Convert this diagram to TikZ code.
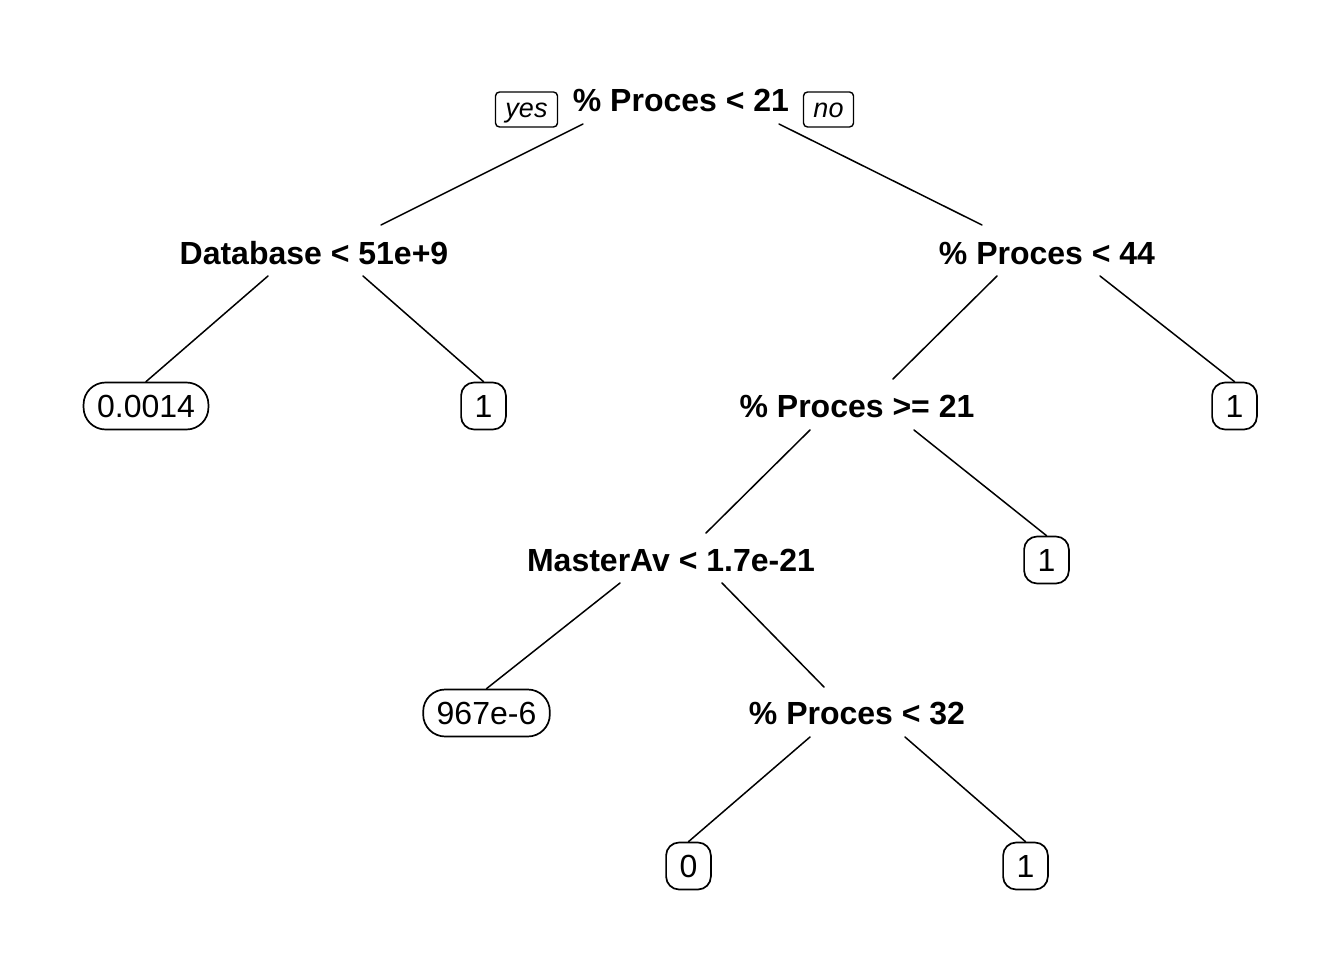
\documentclass[tikz,border=0pt]{standalone}
\usepackage{fontspec}
\setmainfont{Liberation Sans}
\begin{document}
\begin{tikzpicture}[x=1pt,y=-1pt,
  split/.style={font=\fontsize{32}{36}\selectfont\bfseries, anchor=base, inner sep=0pt},
  leaf/.style={draw, line width=1.7pt, rounded corners=#1, font=\fontsize{32}{36}\selectfont, text height=23pt, text depth=0pt, minimum height=47pt, inner xsep=13.5pt, inner ysep=0pt},
  leaf/.default=13pt,
  yn/.style={draw, line width=1.4pt, rounded corners=4pt, font=\fontsize{27}{30}\selectfont\itshape, text height=16pt, text depth=0pt, minimum height=35pt, inner xsep=10pt, inner ysep=0pt},
  edge/.style={line width=1.5pt, line cap=round}]
\useasboundingbox (0,0) rectangle (1344,960);
% split nodes
\node[split] (root) at (681,112) {\% Proces < 21};
\node[split] (db) at (314,264) {Database < 51e+9};
\node[split] (p44) at (1047,264) {\% Proces < 44};
\node[split] (p21) at (857,417) {\% Proces >= 21};
\node[split] (ma) at (671,571) {MasterAv < 1.7e-21};
\node[split] (p32) at (857,724) {\% Proces < 32};
% yes / no
\node[yn] (yes) at (526.5,109.5) {yes};
\node[yn] (no) at (828.5,109.5) {no};
% leaves
\node[leaf=22pt] (l1) at (146,406) {0.0014};
\node[leaf] (l2) at (483.5,406) {1};
\node[leaf] (l3) at (1234.5,406) {1};
\node[leaf] (l4) at (1046.5,560) {1};
\node[leaf=22pt] (l5) at (486.5,713) {967e-6};
\node[leaf] (l6) at (688.5,866) {0};
\node[leaf] (l7) at (1025.5,866) {1};
% edge end points
\coordinate (rootL) at (583,124);
\coordinate (rootR) at (779,124);
\coordinate (dbT) at (381,225);
\coordinate (p44T) at (982,225);
\coordinate (dbL) at (268,276);
\coordinate (dbR) at (363,276);
\coordinate (p44L) at (997,276);
\coordinate (p44R) at (1100,276);
\coordinate (p21T) at (893,379);
\coordinate (p21L) at (810,430);
\coordinate (p21R) at (914,430);
\coordinate (maT) at (706,533);
\coordinate (maL) at (620,583);
\coordinate (maR) at (722,583);
\coordinate (p32T) at (824,687);
\coordinate (p32L) at (810,737);
\coordinate (p32R) at (905,737);
% connectors
\draw[edge] (rootL) -- (dbT);
\draw[edge] (rootR) -- (p44T);
\draw[edge] (dbL) -- (l1.north);
\draw[edge] (dbR) -- (l2.north);
\draw[edge] (p44L) -- (p21T);
\draw[edge] (p44R) -- (l3.north);
\draw[edge] (p21L) -- (maT);
\draw[edge] (p21R) -- (l4.north);
\draw[edge] (maL) -- (l5.north);
\draw[edge] (maR) -- (p32T);
\draw[edge] (p32L) -- (l6.north);
\draw[edge] (p32R) -- (l7.north);
\end{tikzpicture}
\end{document}
